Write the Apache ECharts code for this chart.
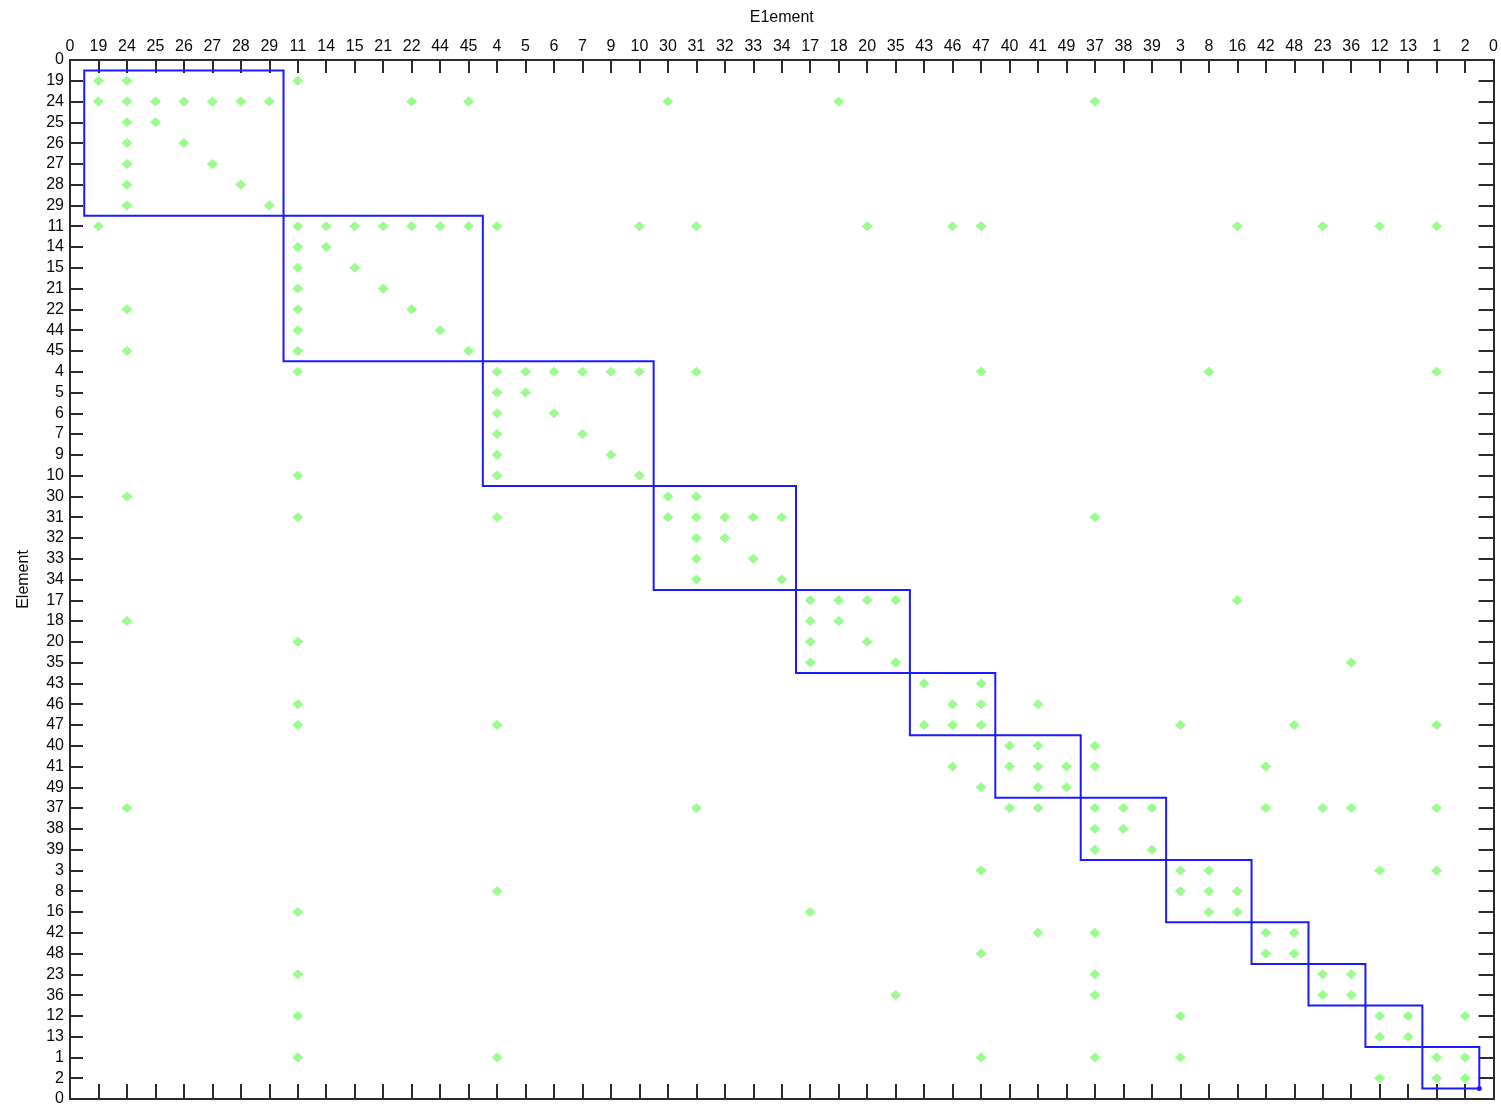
<!DOCTYPE html>
<html>
<head>
<meta charset="utf-8">
<script src="https://cdn.jsdelivr.net/npm/echarts@6/dist/echarts.min.js"></script>
<style>
  html, body { margin: 0; padding: 0; background: #ffffff; }
  #chart { width: 1501px; height: 1107px; }
</style>
</head>
<body>
<div id="chart"></div>
<script>
// Element ordering along both axes (reordered so that coupled groups sit on the diagonal)
const order = [19, 24, 25, 26, 27, 28, 29, 11, 14, 15, 21, 22, 44, 45, 4, 5, 6, 7, 9, 10,
               30, 31, 32, 33, 34, 17, 18, 20, 35, 43, 46, 47, 40, 41, 49, 37, 38, 39, 3, 8,
               16, 42, 48, 23, 36, 12, 13, 1, 2];

// Label shown at both padding ends of each axis
const edgeLabel = '0';

// For each row element (same order as `order`), the column elements with a non-zero entry
const hits = [
  [19, 24, 11],
  [19, 24, 25, 26, 27, 28, 29, 22, 45, 30, 18, 37],
  [24, 25],
  [24, 26],
  [24, 27],
  [24, 28],
  [24, 29],
  [19, 11, 14, 15, 21, 22, 44, 45, 4, 10, 31, 20, 46, 47, 16, 23, 12, 1],
  [11, 14],
  [11, 15],
  [11, 21],
  [24, 11, 22],
  [11, 44],
  [24, 11, 45],
  [11, 4, 5, 6, 7, 9, 10, 31, 47, 8, 1],
  [4, 5],
  [4, 6],
  [4, 7],
  [4, 9],
  [11, 4, 10],
  [24, 30, 31],
  [11, 4, 30, 31, 32, 33, 34, 37],
  [31, 32],
  [31, 33],
  [31, 34],
  [17, 18, 20, 35, 16],
  [24, 17, 18],
  [11, 17, 20],
  [17, 35, 36],
  [43, 47],
  [11, 46, 47, 41],
  [11, 4, 43, 46, 47, 3, 48, 1],
  [40, 41, 37],
  [46, 40, 41, 49, 37, 42],
  [47, 41, 49],
  [24, 31, 40, 41, 37, 38, 39, 42, 23, 36, 1],
  [37, 38],
  [37, 39],
  [47, 3, 8, 12, 1],
  [4, 3, 8, 16],
  [11, 17, 8, 16],
  [41, 37, 42, 48],
  [47, 42, 48],
  [11, 37, 23, 36],
  [35, 37, 23, 36],
  [11, 3, 12, 13, 2],
  [12, 13],
  [11, 4, 47, 37, 3, 1, 2],
  [12, 1, 2]
];

// Sizes of the diagonal blocks, in order
const blockSizes = [7, 7, 6, 5, 4, 3, 3, 3, 3, 2, 2, 2, 2];

// ---- derived structures ----
const n = order.length;
const posOf = {};
order.forEach((el, i) => { posOf[el] = i + 1; });

const points = [];
order.forEach((rowEl, r) => {
  hits[r].forEach(colEl => points.push([posOf[colEl], r + 1]));
});

const blocks = [];
let start = 0.5;
blockSizes.forEach(size => { blocks.push([start, start + size]); start += size; });

function tickName(v) {
  const i = Math.round(v);
  return (i === 0 || i === n + 1) ? edgeLabel : String(order[i - 1]);
}

const FONT = '"Liberation Sans", Arial, sans-serif';
const AXIS_COLOR = '#2b2b2b';
const TEXT_COLOR = '#0a0a0a';

function axisBase(extra) {
  return Object.assign({
    type: 'value',
    min: 0,
    max: n + 1,
    interval: 1,
    splitLine: { show: false },
    axisLine: { show: true, onZero: false, lineStyle: { color: AXIS_COLOR, width: 2 } },
    axisTick: { show: true, inside: true, length: 14, lineStyle: { color: AXIS_COLOR, width: 2 } },
    axisLabel: { show: false }
  }, extra);
}

const labelStyle = {
  show: true,
  formatter: tickName,
  color: TEXT_COLOR,
  fontSize: 16,
  fontFamily: FONT
};

const chart = echarts.init(document.getElementById('chart'), null, { renderer: 'canvas' });

chart.setOption({
  backgroundColor: '#ffffff',
  animation: false,
  grid: { left: 70, right: 4, top: 60, bottom: 8, containLabel: false },
  xAxis: [
    axisBase({
      position: 'top',
      axisTick: { show: true, inside: true, length: 13, lineStyle: { color: AXIS_COLOR, width: 2 } },
      axisLabel: Object.assign({ margin: 5 }, labelStyle),
      name: 'E1ement',
      nameLocation: 'middle',
      nameGap: 34,
      nameTextStyle: { color: TEXT_COLOR, fontSize: 16, fontFamily: FONT }
    }),
    axisBase({ position: 'bottom', axisTick: { show: true, inside: true, length: 15, lineStyle: { color: AXIS_COLOR, width: 2 } } })
  ],
  yAxis: [
    axisBase({
      position: 'left',
      inverse: true,
      axisTick: { show: true, inside: true, length: 13, lineStyle: { color: AXIS_COLOR, width: 2 } },
      axisLabel: Object.assign({ margin: 6 }, labelStyle),
      name: 'Element',
      nameLocation: 'middle',
      nameGap: 38,
      nameTextStyle: { color: TEXT_COLOR, fontSize: 16, fontFamily: FONT }
    }),
    axisBase({ position: 'right', inverse: true, axisTick: { show: true, inside: true, length: 15, lineStyle: { color: AXIS_COLOR, width: 2 } } })
  ],
  series: [
    {
      type: 'scatter',
      xAxisIndex: 0,
      yAxisIndex: 0,
      data: points,
      symbol: 'diamond',
      symbolSize: [11, 10],
      itemStyle: { color: '#7ffb70' },
      silent: true,
      z: 2
    },
    {
      type: 'custom',
      xAxisIndex: 0,
      yAxisIndex: 0,
      data: blocks,
      encode: { x: [0, 1], y: [0, 1] },
      silent: true,
      z: 3,
      renderItem: function (params, api) {
        const a = api.coord([api.value(0), api.value(0)]);
        const b = api.coord([api.value(1), api.value(1)]);
        const children = [{
          type: 'rect',
          shape: { x: a[0], y: a[1], width: b[0] - a[0], height: b[1] - a[1] },
          style: { fill: 'none', stroke: '#1a1aff', lineWidth: 2 }
        }];
        if (params.dataIndex === blocks.length - 1) {
          children.push({
            type: 'circle',
            shape: { cx: b[0], cy: b[1], r: 2.5 },
            style: { fill: '#1a1aff' }
          });
        }
        return { type: 'group', children: children };
      }
    }
  ]
});
</script>
</body>
</html>
